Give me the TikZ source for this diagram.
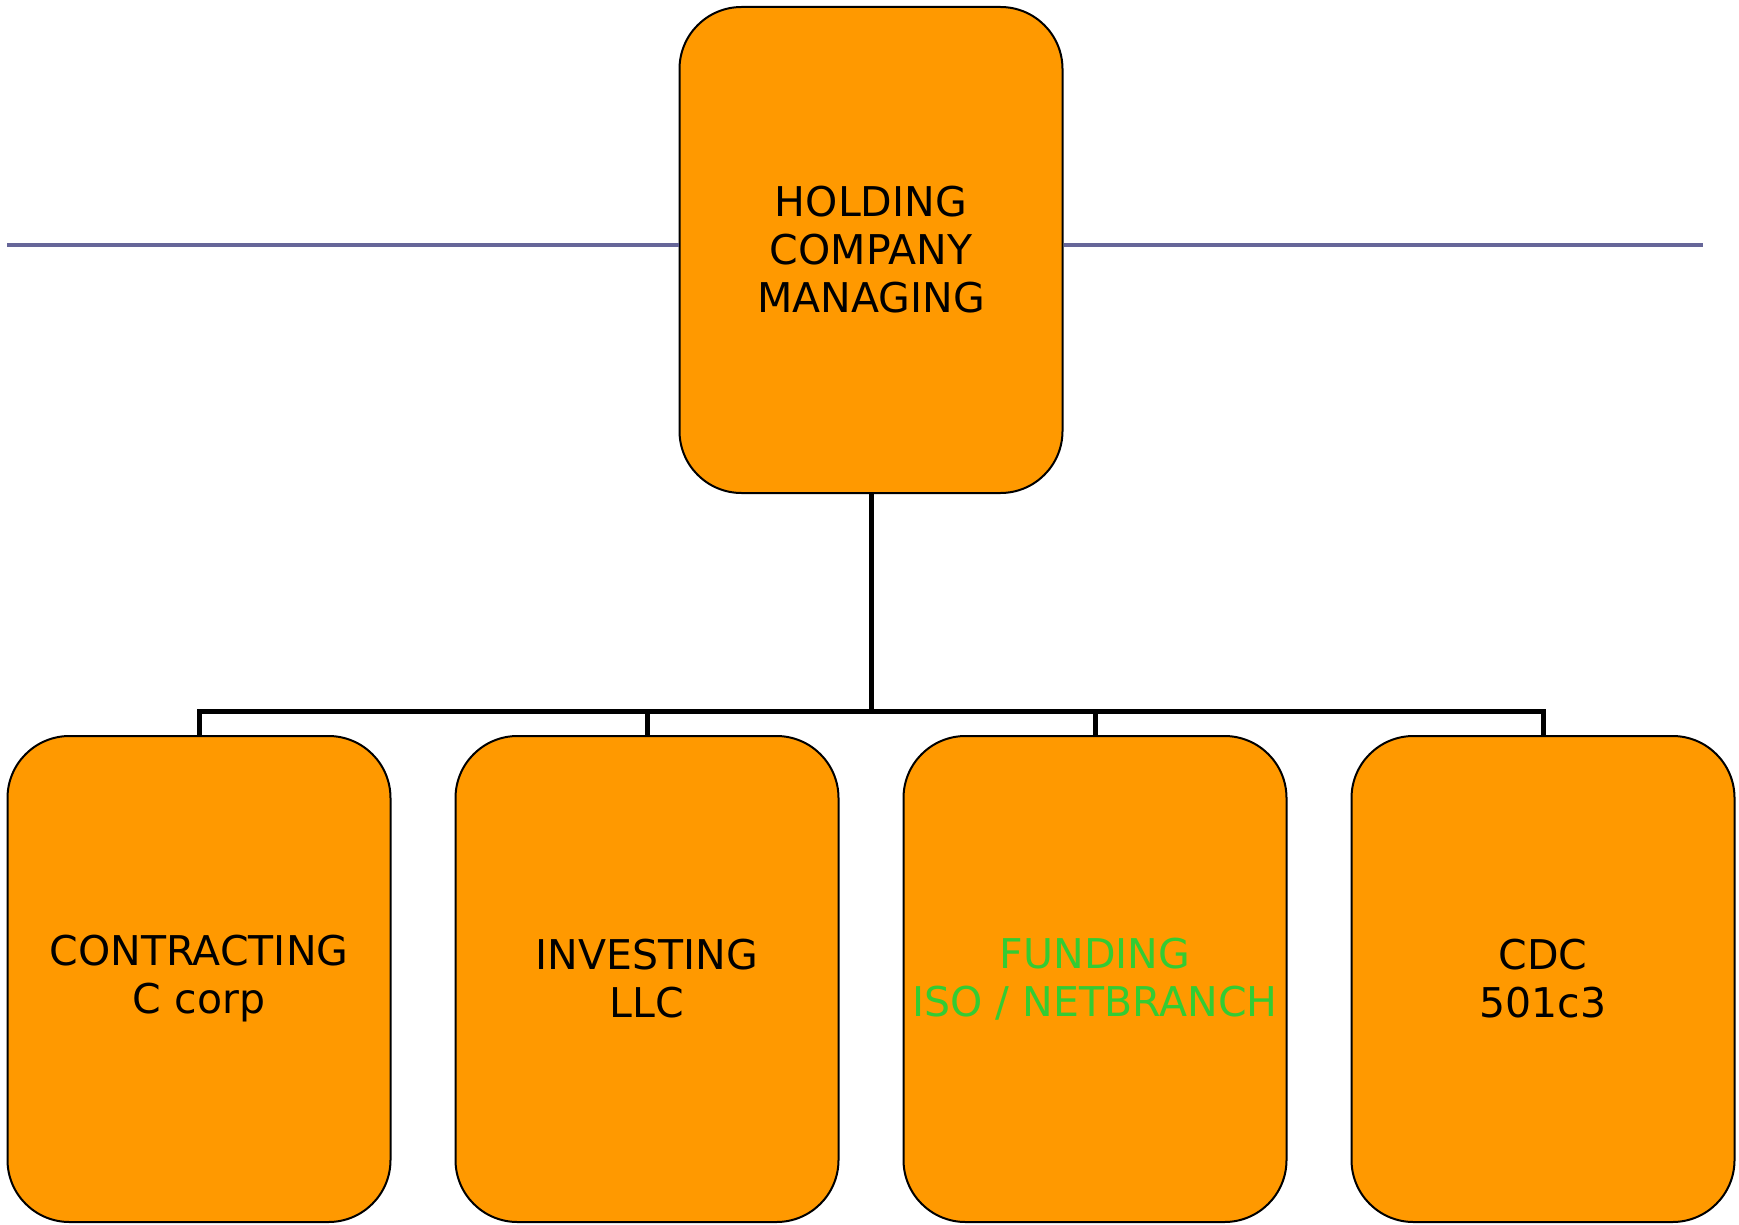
\documentclass[tikz,border=0pt]{standalone}
\usepackage{fontspec}
\setmainfont{DejaVu Sans}
\begin{document}
\begin{tikzpicture}[x=1pt,y=-1pt,
    unitbox/.style={draw=black,line width=2pt,fill=orgfill,rounded corners=62pt,
        minimum width=383pt,minimum height=486pt,inner sep=0pt,align=center,
        font=\fontsize{41}{48}\selectfont},
    tree/.style={line width=5pt,black},
    rule/.style={line width=4pt,rulecol}]
    \definecolor{orgfill}{HTML}{FF9900}
    \definecolor{rulecol}{HTML}{666699}
    \definecolor{greentxt}{HTML}{33CC33}
    \useasboundingbox (0,0) rectangle (1739,1225);

    \coordinate (ruleL) at (7,245);
    \coordinate (ruleR) at (1703,245);
    \node[unitbox] (hold) at (871,250) {HOLDING\\COMPANY\\MANAGING};
    \draw[rule] (ruleL) -- (hold.west |- ruleL);
    \draw[rule] (hold.east |- ruleR) -- (ruleR);

    \node[unitbox] (contr) at (199,979) {CONTRACTING\\C corp};
    \node[unitbox] (invest) at (647,979) {INVESTING\\LLC};
    \node[unitbox,text=greentxt] (fund) at (1095,979) {FUNDING\\ISO / NETBRANCH};
    \node[unitbox] (cdc) at (1543,979) {CDC\\501c3};

    \coordinate (bar) at (871,711);
    \draw[tree] (hold.south) -- (bar);
    \foreach \c in {contr,invest,fund,cdc} {
        \draw[tree] (bar) -| (\c.north);
    }
\end{tikzpicture}
\end{document}
